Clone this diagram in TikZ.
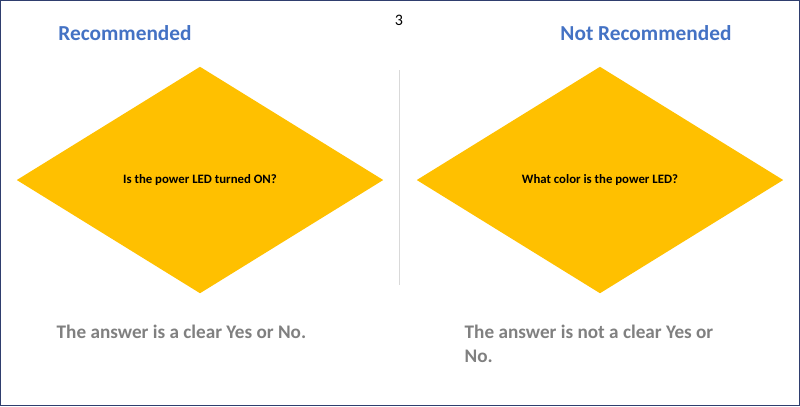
\documentclass[tikz,border=0pt]{standalone}
\usepackage{fontspec}
\setmainfont{Carlito}
\usetikzlibrary{shapes.geometric}
\definecolor{titleblue}{RGB}{68,114,196}
\definecolor{ledgold}{RGB}{255,192,0}
\definecolor{notegray}{RGB}{128,128,128}
\definecolor{framec}{RGB}{47,62,110}
\tikzset{
  title/.style={font=\fontsize{16}{19}\selectfont\bfseries, text=titleblue},
  question/.style={diamond, fill=ledgold, minimum width=275pt, minimum height=170pt,
    aspect=1.6, inner sep=0pt, font=\fontsize{9.6}{11}\selectfont\bfseries},
  note/.style={anchor=north west, align=left, text=notegray,
    font=\fontsize{14.4}{18}\selectfont\bfseries}
}
\begin{document}
\begin{tikzpicture}[x=0.75pt,y=-0.75pt]
  % frame
  \draw[framec, line width=0.8pt] (0.5,0.5) rectangle (799.5,405.5);
  \node at (399,20) {\fontsize{12}{14}\selectfont 3};
  % left side
  \node[title] (rec) at (125,33) {Recommended};
  \node[question] (qon) at (200,180) {Is the power LED turned ON?};
  \node[note] (ans) at (52,320) {The answer is a clear Yes or No.};
  % divider
  \draw[gray!30] (399,70) -- (399,285);
  % right side
  \node[title] (notrec) at (646,33) {Not Recommended};
  \node[question] (qcol) at (600,180) {What color is the power LED?};
  \node[note] (nans) at (460,320) {The answer is not a clear Yes or\\No.};
\end{tikzpicture}
\end{document}
